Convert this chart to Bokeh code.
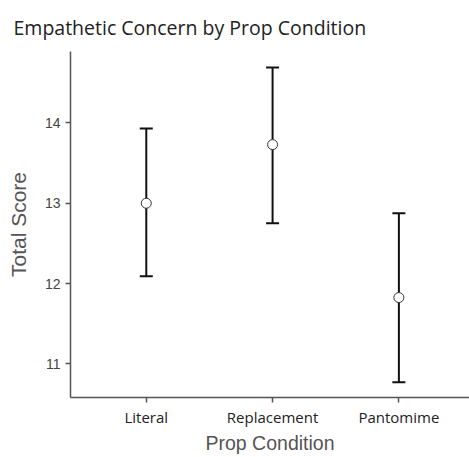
from bokeh.plotting import figure
from bokeh.models import Range1d, FixedTicker, Whisker, TeeHead, ColumnDataSource
from bokeh.embed import file_html
from bokeh.resources import INLINE

title_text = "Empathetic Concern by Prop Condition"
categories = ["Literal", "Replacement", "Pantomime"]
means = [13.0, 13.73, 11.825]
upper = [13.93, 14.69, 12.875]
lower = [12.09, 12.75, 10.77]
xpos = [1, 2, 3]

src = ColumnDataSource(dict(x=xpos, mean=means, upper=upper, lower=lower))

p = figure(width=469, height=457, output_backend="svg", toolbar_location=None,
           x_range=Range1d(0.4, 0.4 + 399 / 126.3), y_range=Range1d(10.58, 14.89),
           min_border_left=70, min_border_right=0, min_border_top=0, min_border_bottom=60)

p.title.text = title_text
p.title.text_font = "Open Sans"
p.title.text_font_size = "19.5px"
p.title.text_font_style = "normal"
p.title.text_color = "#222222"
p.title.offset = -57
p.title.standoff = 22

p.grid.visible = False
p.outline_line_color = None
p.background_fill_color = "white"
p.border_fill_color = "white"

w = Whisker(base="x", upper="upper", lower="lower", source=src,
            line_color="#111111", line_width=2,
            upper_head=TeeHead(size=13, line_width=2, line_color="#111111"),
            lower_head=TeeHead(size=13, line_width=2, line_color="#111111"))
p.add_layout(w)

p.scatter("x", "mean", source=src, size=10, fill_color="white", line_color="#333333", line_width=1)

p.xaxis.ticker = FixedTicker(ticks=xpos)
p.xaxis.major_label_overrides = {x: c for x, c in zip(xpos, categories)}
p.xaxis.major_label_text_font = "Open Sans"
p.xaxis.major_label_text_font_size = "15px"
p.xaxis.major_label_text_color = "#222222"
p.xaxis.major_label_standoff = 4
p.xaxis.axis_label = "Prop Condition"
p.xaxis.axis_label_text_font = "Liberation Sans"
p.xaxis.axis_label_text_font_size = "19.5px"
p.xaxis.axis_label_text_font_style = "normal"
p.xaxis.axis_label_text_color = "#555555"
p.xaxis.axis_label_standoff = 2

p.yaxis.ticker = FixedTicker(ticks=[11, 12, 13, 14])
p.yaxis.major_label_text_font = "Liberation Sans"
p.yaxis.major_label_text_font_size = "14px"
p.yaxis.major_label_text_color = "#444444"
p.yaxis.major_label_standoff = 5
p.yaxis.axis_label = "Total Score"
p.yaxis.axis_label_text_font = "Liberation Sans"
p.yaxis.axis_label_text_font_size = "21px"
p.yaxis.axis_label_text_font_style = "normal"
p.yaxis.axis_label_text_color = "#555555"
p.yaxis.axis_label_standoff = 12

for ax in (p.xaxis, p.yaxis):
    ax.axis_line_color = "#555555"
    ax.axis_line_width = 1.5
    ax.major_tick_line_color = "#555555"
    ax.major_tick_line_width = 1.5
    ax.major_tick_out = 5
    ax.major_tick_in = 0
    ax.minor_tick_line_color = None

open("out.html", "w").write(file_html(p, INLINE))
